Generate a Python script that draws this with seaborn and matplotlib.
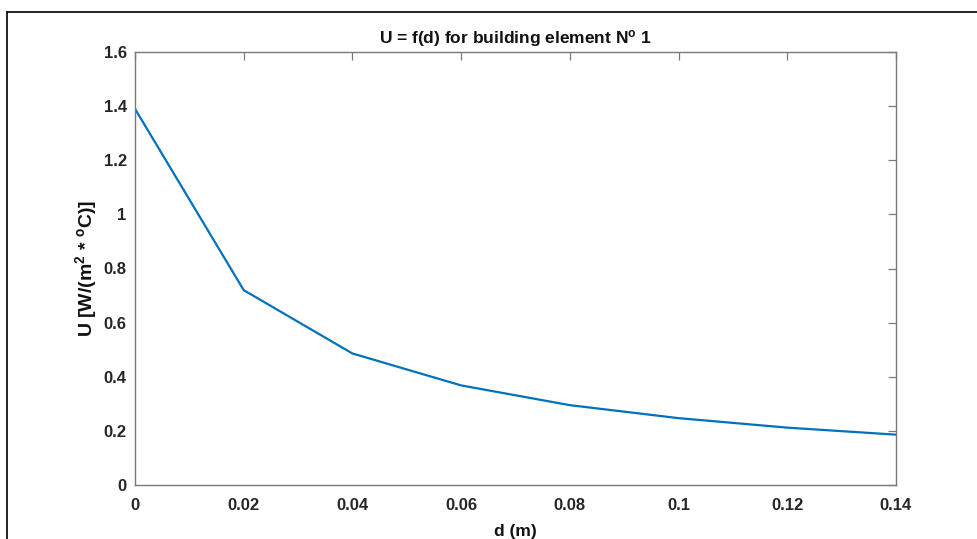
import matplotlib
matplotlib.use("Agg")
import matplotlib.pyplot as plt
import seaborn as sns
import pandas as pd

# thickness d (m) and resulting U value
d_values = [0.0, 0.02, 0.04, 0.06, 0.08, 0.10, 0.12, 0.14]
u_values = [1.39, 0.72, 0.486, 0.368, 0.295, 0.247, 0.212, 0.186]

x_ticks = [0, 0.02, 0.04, 0.06, 0.08, 0.1, 0.12, 0.14]
x_labels = ["0", "0.02", "0.04", "0.06", "0.08", "0.1", "0.12", "0.14"]
y_ticks = [0, 0.2, 0.4, 0.6, 0.8, 1.0, 1.2, 1.4, 1.6]
y_labels = ["0", "0.2", "0.4", "0.6", "0.8", "1", "1.2", "1.4", "1.6"]

df = pd.DataFrame({"d": d_values, "U": u_values})

sns.set_style("white")
plt.rcParams['font.family'] = ['Liberation Sans', 'DejaVu Sans']
plt.rcParams['mathtext.fontset'] = 'custom'
plt.rcParams['mathtext.rm'] = 'Liberation Sans:bold'
plt.rcParams['mathtext.it'] = 'Liberation Sans:bold'
plt.rcParams['mathtext.bf'] = 'Liberation Sans:bold'

fig = plt.figure(figsize=(9.78, 5.39), dpi=100)
ax = fig.add_axes([135 / 978, 1 - 485 / 539, (896 - 135) / 978, (485 - 52) / 539])

sns.lineplot(data=df, x="d", y="U", ax=ax, color="#0072BD", linewidth=1.6)

ax.set_xlim(0, 0.14)
ax.set_ylim(0, 1.6)
ax.set_xticks(x_ticks)
ax.set_xticklabels(x_labels)
ax.set_yticks(y_ticks)
ax.set_yticklabels(y_labels)

for s in ax.spines.values():
    s.set_color("#7a7a7a")
    s.set_linewidth(1.0)
ax.tick_params(direction="in", length=6, width=0.9, color="#7a7a7a",
               top=True, right=True, labelsize=12, labelcolor="#262626")
ax.tick_params(axis="x", pad=9)
ax.tick_params(axis="y", pad=6)
for lab in ax.get_xticklabels() + ax.get_yticklabels():
    lab.set_fontweight("bold")

ax.set_title(r"U = f(d) for building element N$^{\mathrm{o}}$ 1",
             fontsize=12.5, fontweight="bold", color="#111111", pad=6)
ax.set_xlabel("d (m)", fontsize=12.5, fontweight="bold", color="#111111", labelpad=8)
ax.set_ylabel(r"U [W/(m$^{2}$ * $^{\mathrm{o}}$C)]", fontsize=14, fontweight="bold",
              color="#111111")
ax.yaxis.set_label_coords(-0.047, 0.5)

# outer frame lines (top and left) like the cropped screenshot
fig.add_artist(plt.Line2D([7 / 978, 1], [1 - 12 / 539, 1 - 12 / 539], color="black", linewidth=1.2))
fig.add_artist(plt.Line2D([7 / 978, 7 / 978], [0, 1 - 12 / 539], color="black", linewidth=1.2))

fig.savefig("out.png", dpi=100)
